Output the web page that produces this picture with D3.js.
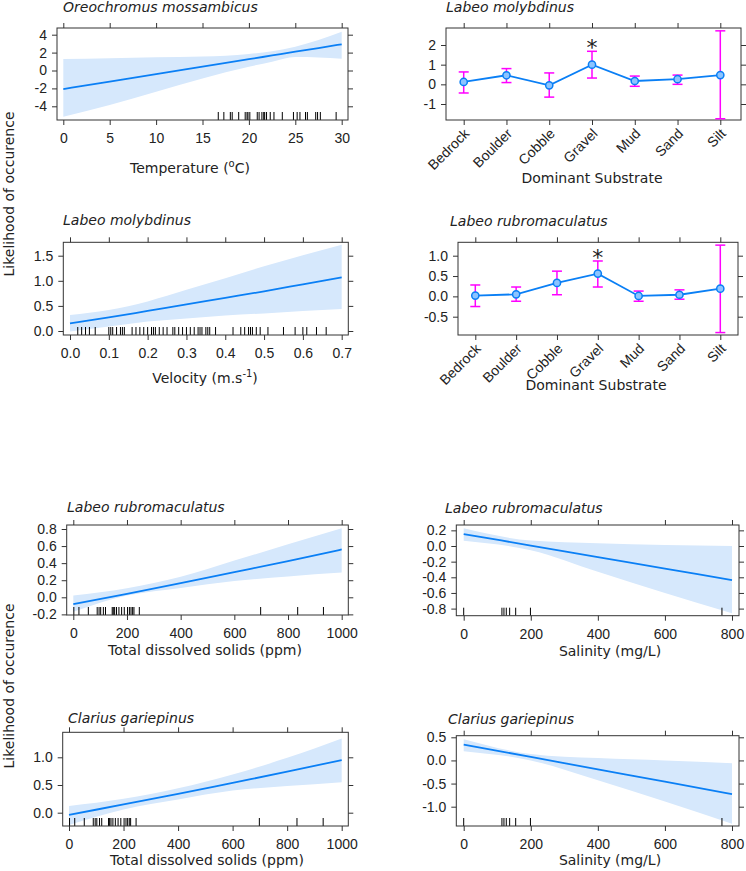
<!DOCTYPE html>
<html><head><meta charset="utf-8">
<script src="https://cdn.jsdelivr.net/npm/d3@7"></script>
<style>body{margin:0;background:#fff} svg{display:block}</style>
</head><body>
<svg id="c" width="746" height="871"></svg>
<script>
// ---------------- DATA ----------------
const substrates = ["Bedrock","Boulder","Cobble","Gravel","Mud","Sand","Silt"];
const molySubFit   = [0.12, 0.46, -0.05, 1.00, 0.17, 0.26, 0.47];
const molySubUpper = [0.63, 0.80, 0.58, 1.68, 0.42, 0.47, 2.72];
const molySubLower = [-0.44, 0.09, -0.65, 0.32, -0.10, 0.00, -1.75];
const rubroSubFit   = [0.02, 0.05, 0.33, 0.56, 0.01, 0.04, 0.19];
const rubroSubUpper = [0.28, 0.23, 0.62, 0.87, 0.13, 0.16, 1.26];
const rubroSubLower = [-0.25, -0.12, 0.04, 0.23, -0.12, -0.07, -0.89];
const significant = ["Gravel"];

const tempX     = [0, 5, 10, 15, 20, 22.5, 25, 27.5, 30];
const tempFit   = [-2.07, -1.24, -0.40, 0.43, 1.26, 1.68, 2.10, 2.51, 2.93];
const tempUpper = [1.28, 1.36, 1.47, 1.56, 1.85, 2.15, 2.66, 3.40, 4.33];
const tempLower = [-5.16, -3.86, -2.37, -0.88, 0.42, 0.98, 1.50, 1.45, 1.30];
const tempRug = [16.7,17.3,18.0,18.2,18.9,19.6,19.8,19.9,20.1,20.9,21.1,21.4,21.6,21.7,21.9,22.3,22.7,23.6,24.8,25.2,25.5,26.1,26.3,27.2,27.4,27.7,29.4];

const velX     = [0, 0.1, 0.2, 0.3, 0.4, 0.5, 0.6, 0.7];
const velFit   = [0.15, 0.27, 0.40, 0.53, 0.66, 0.79, 0.93, 1.07];
const velUpper = [0.32, 0.42, 0.59, 0.82, 1.05, 1.29, 1.51, 1.72];
const velLower = [-0.01, 0.09, 0.19, 0.25, 0.31, 0.35, 0.40, 0.44];
const velRug = [0.02,0.03,0.04,0.05,0.065,0.1,0.105,0.11,0.12,0.13,0.135,0.14,0.16,0.17,0.18,0.19,0.2,0.21,0.215,0.22,0.23,0.24,0.25,0.265,0.27,0.28,0.29,0.3,0.31,0.32,0.33,0.335,0.34,0.35,0.355,0.36,0.375,0.42,0.44,0.45,0.46,0.465,0.47,0.48,0.49,0.51,0.55,0.58,0.6,0.61,0.635,0.66];

const tdsX = [0, 200, 400, 600, 800, 1000];
const rubroTdsFit   = [-0.08, 0.04, 0.165, 0.295, 0.425, 0.56];
const rubroTdsUpper = [0.02, 0.105, 0.24, 0.43, 0.62, 0.81];
const rubroTdsLower = [-0.17, 0.02, 0.11, 0.19, 0.245, 0.29];
const clarTdsFit   = [-0.04, 0.15, 0.34, 0.54, 0.74, 0.95];
const clarTdsUpper = [0.12, 0.25, 0.44, 0.69, 0.99, 1.34];
const clarTdsLower = [-0.22, 0.06, 0.24, 0.40, 0.48, 0.55];
const tdsRug = [2,21,56,89,96,102,112,120,145,149,154,161,170,180,190,202,209,215,221,226,246,698,836,932];

const salX = [0, 200, 400, 600, 800];
const rubroSalFit   = [0.153, 0.006, -0.141, -0.288, -0.435];
const rubroSalUpper = [0.226, 0.070, 0.035, 0.013, 0.0];
const rubroSalLower = [0.068, -0.055, -0.33, -0.60, -0.86];
const clarSalFit   = [0.343, 0.075, -0.193, -0.46, -0.73];
const clarSalUpper = [0.46, 0.14, 0.05, 0.0, -0.06];
const clarSalLower = [0.20, 0.0, -0.43, -0.89, -1.37];
const salRug = [0, 114, 120, 127, 137, 155, 199, 770];

const yTitle = "Likelihood of occurence";

// ---------------- STYLE ----------------
const LINE = "#0a7ff5", BAND = "#d6e8fc", ERR = "#ff00ff", AX = "#333";
const TICKF = "'Liberation Sans', Arial, sans-serif";
const TITLEF = "'DejaVu Sans', Verdana, sans-serif";
const TICKSIZE = 14;
const svg = d3.select("#c");

const fmt = p => d => d3.format(p)(d).replace("\u2212", "-");

function frame(box, xs, ys, xticks, yticks, xf, yf, xcat) {
  const g = svg.append("g");
  g.append("rect").attr("x", box[0]).attr("y", box[2])
    .attr("width", box[1]-box[0]).attr("height", box[3]-box[2])
    .attr("fill", "none").attr("stroke", AX).attr("stroke-width", 1);
  const style = a => {
    a.select(".domain").remove();
    a.selectAll("line").attr("stroke", AX);
    a.selectAll("text").attr("font-family", TICKF).attr("font-size", TICKSIZE).attr("fill", "#222");
  };
  const bx = d3.axisBottom(xs).tickSize(5).tickPadding(8);
  if (xticks) bx.tickValues(xticks);
  bx.tickFormat(xcat ? "" : xf);
  g.append("g").attr("transform", `translate(0,${box[3]})`).call(bx).call(style);
  const tx = d3.axisTop(xs).tickSize(5).tickFormat("");
  if (xticks) tx.tickValues(xticks);
  g.append("g").attr("transform", `translate(0,${box[2]})`).call(tx).call(style);
  g.append("g").attr("transform", `translate(${box[0]},0)`)
    .call(d3.axisLeft(ys).tickValues(yticks).tickSize(5).tickPadding(5).tickFormat(yf)).call(style);
  g.append("g").attr("transform", `translate(${box[1]},0)`)
    .call(d3.axisRight(ys).tickValues(yticks).tickSize(5).tickFormat("")).call(style);
  if (xcat) {
    g.append("g").selectAll("text").data(xs.domain()).join("text")
      .attr("transform", d => `translate(${xs(d)+3},${box[3]+11}) rotate(-45)`)
      .attr("text-anchor", "end").attr("dy", "0.35em")
      .attr("font-family", TICKF).attr("font-size", TICKSIZE).attr("fill", "#222")
      .text(d => d);
  }
  return g;
}

function panelTitle(x, y, t) {
  svg.append("text").attr("x", x).attr("y", y).attr("font-family", TITLEF)
    .attr("font-style", "italic").attr("font-size", 14).attr("fill", "#222").text(t);
}
function axisTitle(x, y, main, sup, tail) {
  const t = svg.append("text").attr("x", x).attr("y", y).attr("text-anchor", "middle")
    .attr("font-family", TITLEF).attr("font-size", 14).attr("fill", "#222");
  t.append("tspan").text(main);
  if (sup) {
    t.append("tspan").attr("dy", -6).attr("font-size", 10).text(sup);
    t.append("tspan").attr("dy", 6).text(tail);
  }
}

function contPanel(c) {
  const xs = d3.scaleLinear().domain(c.xd).range(c.xr);
  const ys = d3.scaleLinear().domain(c.yd).range(c.yr);
  const box = c.box;
  const g = svg.append("g");
  const clipId = "clip" + c.id;
  svg.append("clipPath").attr("id", clipId).append("rect")
    .attr("x", box[0]).attr("y", box[2]).attr("width", box[1]-box[0]).attr("height", box[3]-box[2]);
  const gg = g.append("g").attr("clip-path", `url(#${clipId})`);
  const pts = c.x.map((x, i) => ({x, f: c.fit[i], u: c.up[i], l: c.lo[i]}));
  gg.append("path").datum(pts)
    .attr("d", d3.area().x(d => xs(d.x)).y0(d => ys(d.l)).y1(d => ys(d.u)).curve(d3.curveMonotoneX))
    .attr("fill", BAND);
  gg.append("path").datum(pts)
    .attr("d", d3.line().x(d => xs(d.x)).y(d => ys(d.f)).curve(d3.curveMonotoneX))
    .attr("fill", "none").attr("stroke", LINE).attr("stroke-width", 1.8);
  gg.append("g").selectAll("line").data(c.rug).join("line")
    .attr("x1", d => xs(d)).attr("x2", d => xs(d))
    .attr("y1", box[3]).attr("y2", box[3]-8)
    .attr("stroke", "#000").attr("stroke-width", 1);
  frame(box, xs, ys, c.xticks, c.yticks, c.xf, c.yf, false);
}

function catPanel(c) {
  const xs = d3.scalePoint().domain(substrates).range(c.xr);
  const ys = d3.scaleLinear().domain(c.yd).range(c.yr);
  const box = c.box;
  frame(box, xs, ys, null, c.yticks, null, c.yf, true);
  const pts = substrates.map((s, i) => ({s, f: c.fit[i], u: c.up[i], l: c.lo[i]}));
  const g = svg.append("g");
  const eb = g.append("g").selectAll("g").data(pts).join("g").attr("stroke", ERR).attr("stroke-width", 1.5);
  eb.append("line").attr("x1", d => xs(d.s)).attr("x2", d => xs(d.s)).attr("y1", d => ys(d.u)).attr("y2", d => ys(d.l));
  eb.append("line").attr("x1", d => xs(d.s)-5).attr("x2", d => xs(d.s)+5).attr("y1", d => ys(d.u)).attr("y2", d => ys(d.u));
  eb.append("line").attr("x1", d => xs(d.s)-5).attr("x2", d => xs(d.s)+5).attr("y1", d => ys(d.l)).attr("y2", d => ys(d.l));
  g.append("path").datum(pts).attr("d", d3.line().x(d => xs(d.s)).y(d => ys(d.f)))
    .attr("fill", "none").attr("stroke", LINE).attr("stroke-width", 1.8);
  g.append("g").selectAll("circle").data(pts).join("circle")
    .attr("cx", d => xs(d.s)).attr("cy", d => ys(d.f)).attr("r", 3.6)
    .attr("fill", "#8cc4ff").attr("stroke", LINE).attr("stroke-width", 1.5);
  g.append("g").selectAll("text").data(pts.filter(d => significant.includes(d.s))).join("text")
    .attr("x", d => xs(d.s)).attr("y", d => ys(d.u) + 4).attr("text-anchor", "middle")
    .attr("font-family", TITLEF).attr("font-size", 22).attr("fill", "#222").text("*");
}

// ---------------- PANELS ----------------
const f0 = fmt("d"), f1 = fmt(".1f");

// 1 Oreochromus temperature
contPanel({id:1, box:[57,348,28,120], xd:[0,30], xr:[63.3,341.7], yd:[4,-4], yr:[34.7,106.3],
  x:tempX, fit:tempFit, up:tempUpper, lo:tempLower, rug:tempRug,
  xticks:[0,5,10,15,20,25,30], yticks:[-4,-2,0,2,4], xf:f0, yf:f0});
panelTitle(63, 12, "Oreochromus mossambicus");
axisTitle(190, 173, "Temperature (", "o", "C)");

// 2 Labeo molybdinus substrate
catPanel({box:[446,741,28,120], xr:[463.7,720.3], yd:[2,-1], yr:[45,104],
  fit:molySubFit, up:molySubUpper, lo:molySubLower, yticks:[-1,0,1,2], yf:f0});
panelTitle(446, 12, "Labeo molybdinus");
axisTitle(592, 183, "Dominant Substrate");

// 3 Labeo molybdinus velocity
contPanel({id:3, box:[63.3,348.3,242.3,335], xd:[0,0.7], xr:[70,341.7], yd:[1.5,0], yr:[255.7,331],
  x:velX, fit:velFit, up:velUpper, lo:velLower, rug:velRug,
  xticks:[0,0.1,0.2,0.3,0.4,0.5,0.6,0.7], yticks:[0,0.5,1,1.5], xf:f1, yf:f1});
panelTitle(63, 225, "Labeo molybdinus");
axisTitle(205, 383, "Velocity (m.s", "-1", ")");

// 4 Labeo rubromaculatus substrate
catPanel({box:[458,738,242.3,335], xr:[475.3,720.3], yd:[1,-0.5], yr:[255.7,316.7],
  fit:rubroSubFit, up:rubroSubUpper, lo:rubroSubLower, yticks:[-0.5,0,0.5,1], yf:f1});
panelTitle(450, 226, "Labeo rubromaculatus");
axisTitle(596, 390, "Dominant Substrate");

// 5 Labeo rubromaculatus TDS
contPanel({id:5, box:[66.7,348.3,525,615], xd:[0,1000], xr:[73.3,341.7], yd:[0,0.8], yr:[597.3,529],
  x:tdsX, fit:rubroTdsFit, up:rubroTdsUpper, lo:rubroTdsLower, rug:tdsRug,
  xticks:[0,200,400,600,800,1000], yticks:[-0.2,0,0.2,0.4,0.6,0.8], xf:f0, yf:f1});
panelTitle(67, 512, "Labeo rubromaculatus");
axisTitle(205, 655, "Total dissolved solids (ppm)");

// 6 Labeo rubromaculatus salinity
contPanel({id:6, box:[456.3,739,525,615.7], xd:[0,800], xr:[463.7,732], yd:[0,-0.8], yr:[546,608.6],
  x:salX, fit:rubroSalFit, up:rubroSalUpper, lo:rubroSalLower, rug:salRug,
  xticks:[0,200,400,600,800], yticks:[-0.8,-0.6,-0.4,-0.2,0,0.2], xf:f0, yf:f1});
panelTitle(445, 513, "Labeo rubromaculatus");
axisTitle(610, 656, "Salinity (mg/L)");

// 7 Clarius TDS
contPanel({id:7, box:[62.7,348.3,732.3,826], xd:[0,1000], xr:[69,341.7], yd:[0,1], yr:[812.7,757.3],
  x:tdsX, fit:clarTdsFit, up:clarTdsUpper, lo:clarTdsLower, rug:tdsRug,
  xticks:[0,200,400,600,800,1000], yticks:[0,0.5,1], xf:f0, yf:f1});
panelTitle(68, 723, "Clarius gariepinus");
axisTitle(207, 865, "Total dissolved solids (ppm)");

// 8 Clarius salinity
contPanel({id:8, box:[456.3,739,735.7,826], xd:[0,800], xr:[463.7,732], yd:[0.5,-1], yr:[737.3,806.7],
  x:salX, fit:clarSalFit, up:clarSalUpper, lo:clarSalLower, rug:salRug,
  xticks:[0,200,400,600,800], yticks:[-1,-0.5,0,0.5], xf:f0, yf:f1});
panelTitle(448, 724, "Clarius gariepinus");
axisTitle(610, 865, "Salinity (mg/L)");

// y titles
[194, 686].forEach(cy => {
  svg.append("text").attr("transform", `translate(14,${cy}) rotate(-90)`)
    .attr("text-anchor", "middle").attr("font-family", TITLEF).attr("font-size", 14)
    .attr("fill", "#222").text(yTitle);
});
</script>
</body></html>
